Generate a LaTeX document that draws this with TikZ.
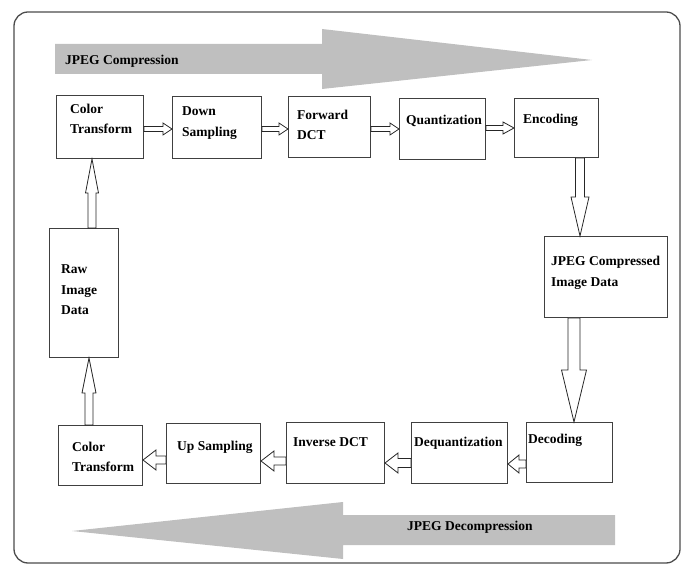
\documentclass[tikz,border=0pt]{standalone}
\usepackage{fontspec}
\setmainfont{Liberation Serif}
\usetikzlibrary{calc}
\tikzstyle{block}=[draw=black!75,line width=1pt,inner sep=0pt,anchor=north west]
\tikzstyle{caption}=[font=\fontsize{13.5}{20.5}\selectfont\bfseries,align=left,anchor=west,inner sep=0pt]
\tikzstyle{band}=[fill=black!25,draw=none]
\tikzset{pipe/.style n args={3}{draw=black!85,fill=white,line width=0.8pt,line join=miter,
  to path={let \p1=(\tikztostart), \p2=(\tikztotarget),
    \n1={atan2(\y2-\y1,\x2-\x1)}, \n2={veclen(\x2-\x1,\y2-\y1)} in
    ($(\p1)+(\n1+90:#1)$) -- ($(\p1)+(\n1:\n2-#3)+(\n1+90:#1)$)
    -- ($(\p1)+(\n1:\n2-#3)+(\n1+90:#2)$) -- (\p2)
    -- ($(\p1)+(\n1:\n2-#3)+(\n1-90:#2)$) -- ($(\p1)+(\n1:\n2-#3)+(\n1-90:#1)$)
    -- ($(\p1)+(\n1-90:#1)$) -- cycle}}}
\begin{document}
\begin{tikzpicture}[x=1pt,y=1pt]
                  \useasboundingbox (0,0) rectangle (685,565);
                  \draw [black!70,line width=1.3pt,rounded corners=14] (14,2) rectangle (680,553);

                  % big grey arrows
                  \fill [band] (55,521) -- (322,521) -- (322,536) -- (592,505) -- (322,476) -- (322,491) -- (55,491) -- cycle;
                  \fill [band] (615,50) -- (343,50) -- (343,63) -- (72,34) -- (343,6) -- (343,20) -- (615,20) -- cycle;
                  \node (comp) at (65,504) [caption] {JPEG Compression};
                  \node (decomp) at (407,38) [caption] {JPEG Decompression};

                  % compression side
                  \node (ct1) at (56,470) [block,minimum width=87,minimum height=63] {};
                  \node (ds) at (172,469) [block,minimum width=89,minimum height=62] {};
                  \node (fdct) at (288,469) [block,minimum width=82,minimum height=61] {};
                  \node (qz) at (399,467) [block,minimum width=86,minimum height=61] {};
                  \node (enc) at (514,467) [block,minimum width=84,minimum height=59] {};
                  \node (jcd) at (544,329) [block,minimum width=123,minimum height=81] {};

                  % decompression side
                  \node (dec) at (526,143) [block,minimum width=86,minimum height=60] {};
                  \node (dqz) at (411,143) [block,minimum width=96,minimum height=61] {};
                  \node (idct) at (286,143) [block,minimum width=98,minimum height=61] {};
                  \node (us) at (166,142) [block,minimum width=94,minimum height=60] {};
                  \node (ct2) at (58,140) [block,minimum width=84,minimum height=60] {};
                  \node (raw) at (49,337) [block,minimum width=69,minimum height=129] {};

                  \node (ct1t) at (70,446) [caption] {Color\\Transform};
                  \node (dst) at (182,442) [caption] {Down\\Sampling};
                  \node (fdctt) at (297,440) [caption] {Forward\\DCT};
                  \node (qzt) at (406,444) [caption] {Quantization};
                  \node (enct) at (523,445) [caption] {Encoding};
                  \node (jcdt) at (551,292) [caption] {JPEG Compressed\\Image Data};
                  \node (dect) at (528,125) [caption] {Decoding};
                  \node (dqzt) at (414,122) [caption] {Dequantization};
                  \node (idctt) at (293,123) [caption] {Inverse DCT};
                  \node (ust) at (177,118) [caption] {Up Sampling};
                  \node (ct2t) at (72,108) [caption] {Color\\Transform};
                  \node (rawt) at (61,275) [caption] {Raw\\Image\\Data};

                  \draw [pipe={2.5}{6}{9}] (ct1.east |- 0,436) to (ds.west |- 0,436);
                  \draw [pipe={2.5}{6}{9}] (ds.east |- 0,436) to (fdct.west |- 0,436);
                  \draw [pipe={2.5}{6}{9}] (fdct.east |- 0,436) to (qz.west |- 0,436);
                  \draw [pipe={2.5}{6}{11}] (qz.east |- 0,437) to (enc.west |- 0,437);
                  \draw [pipe={4.5}{9}{39}] (enc.south -| 580,0) to (jcd.north -| 580,0);
                  \draw [pipe={6}{12.5}{52}] (jcd.south -| 574,0) to (dec.north -| 574,0);

                  \draw [pipe={4}{9}{11}] (dec.west |- 0,101) to (dqz.east |- 0,101);
                  \draw [pipe={4.5}{10}{13}] (dqz.west |- 0,102) to (idct.east |- 0,102);
                  \draw [pipe={4}{10}{13}] (idct.west |- 0,104) to (us.east |- 0,104);
                  \draw [pipe={4}{10}{13}] (us.west |- 0,105) to (ct2.east |- 0,105);
                  \draw [pipe={4}{7}{35}] (ct2.north -| 89,0) to (raw.south -| 89,0);
                  \draw [pipe={4}{6.5}{34}] (raw.north -| 92,0) to (ct1.south -| 92,0);
              \end{tikzpicture}
\end{document}
